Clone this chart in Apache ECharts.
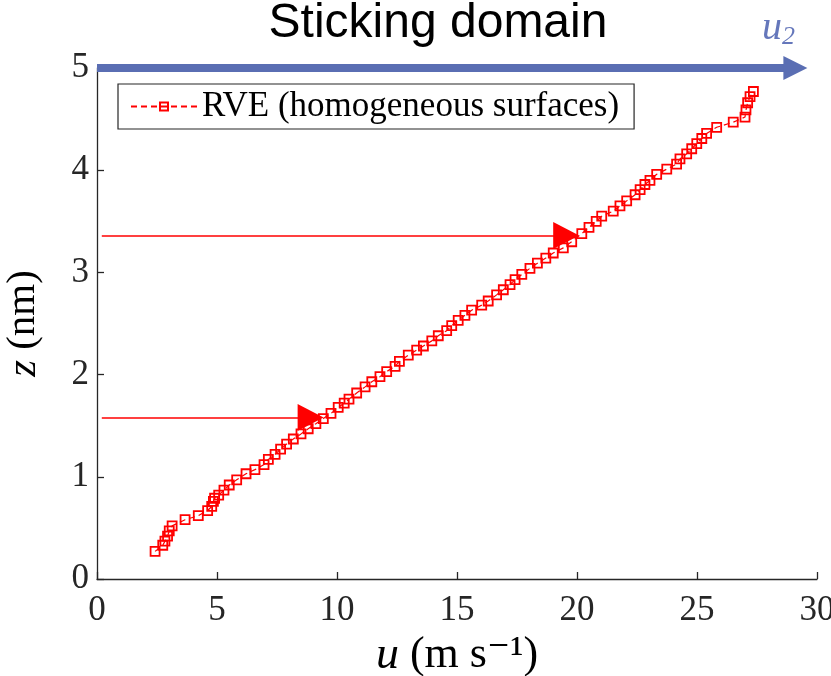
<!DOCTYPE html>
<html><head><meta charset="utf-8">
<script src="https://cdn.jsdelivr.net/npm/echarts@6/dist/echarts.min.js"></script>
<style>html,body{margin:0;padding:0;background:#fff}#c{width:831px;height:676px}</style>
</head><body><div id="c"></div>
<script>
// velocity u (m/s)
const uValues = [2.42,2.74,2.83,2.94,3.01,3.13,3.67,4.22,4.61,4.78,4.85,4.90,5.07,5.29,5.51,5.82,6.21,6.58,6.96,7.14,7.42,7.65,7.90,8.18,8.50,8.80,9.12,9.43,9.75,10.05,10.30,10.50,10.82,11.17,11.45,11.79,12.07,12.42,12.60,12.97,13.32,13.60,13.95,14.22,14.57,14.78,15.05,15.33,15.61,16.03,16.30,16.65,16.93,17.21,17.42,17.70,18.04,18.35,18.70,19.01,19.43,19.78,20.20,20.50,20.80,21.03,21.51,21.79,22.07,22.42,22.63,22.83,23.04,23.32,23.74,24.15,24.29,24.57,24.78,24.99,25.20,25.40,25.82,26.51,27.00,27.04,27.11,27.21,27.35];
// height z (nm)
const zValues = [0.27,0.33,0.37,0.42,0.47,0.52,0.58,0.62,0.67,0.71,0.76,0.79,0.82,0.87,0.92,0.97,1.03,1.07,1.12,1.17,1.22,1.27,1.32,1.37,1.42,1.47,1.52,1.57,1.62,1.68,1.72,1.76,1.82,1.88,1.93,1.98,2.03,2.08,2.13,2.19,2.24,2.28,2.33,2.38,2.43,2.48,2.53,2.58,2.63,2.68,2.72,2.78,2.83,2.88,2.93,2.98,3.04,3.09,3.14,3.19,3.24,3.30,3.38,3.44,3.50,3.55,3.60,3.65,3.70,3.76,3.81,3.86,3.90,3.96,4.01,4.06,4.11,4.16,4.21,4.26,4.31,4.36,4.42,4.47,4.52,4.59,4.66,4.72,4.77];
const seriesName = 'RVE (homogeneous surfaces)';
const xTickValues = [0,5,10,15,20,25,30];
const yTickValues = [0,1,2,3,4,5];
// annotation arrows (data coordinates)
const redArrowZ = [1.58, 3.36];
const redArrowStartU = [0.2, 0.2];
const redArrowEndU = [8.9, 19.55];
const blueArrowZ = 5;
const blueArrowStartU = 0;
const blueArrowEndU = 29.1;

const points = uValues.map((u, i) => [u, zValues[i]]);
const chart = echarts.init(document.getElementById('c'));
const axisCol = '#262626';
const serif = 'Liberation Serif, DejaVu Serif, serif';
chart.setOption({
  animation: false,
  backgroundColor: '#fff',
  grid: {left: 97, right: 14, top: 68, bottom: 97, containLabel: false, outerBoundsMode: 'none'},
  xAxis: {
    type: 'value', min: xTickValues[0], max: xTickValues[xTickValues.length-1], interval: 5,
    axisLine: {show: true, lineStyle: {color: axisCol, width: 1.3}},
    axisTick: {show: true, inside: true, length: 7, lineStyle: {color: axisCol, width: 1.3}},
    splitLine: {show: false},
    axisLabel: {color: axisCol, fontFamily: serif, fontSize: 35, margin: 14},
    name: '{i|u} (m s⁻¹)', nameLocation: 'middle', nameGap: 36,
    nameTextStyle: {color: '#000', fontFamily: serif, fontSize: 44, verticalAlign: 'top',
      rich: {i: {fontFamily: serif, fontStyle: 'italic', fontSize: 46, color: '#000'}}}
  },
  yAxis: {
    type: 'value', min: yTickValues[0], max: yTickValues[yTickValues.length-1], interval: 1,
    axisLine: {show: true, lineStyle: {color: axisCol, width: 1.3}},
    axisTick: {show: true, inside: true, length: 7, lineStyle: {color: axisCol, width: 1.3}},
    splitLine: {show: false},
    axisLabel: {color: axisCol, fontFamily: serif, fontSize: 35, margin: 8},
    name: '{i|z} (nm)', nameLocation: 'middle', nameGap: 52, nameRotate: 90,
    nameTextStyle: {color: '#000', fontFamily: serif, fontSize: 41,
      rich: {i: {fontFamily: serif, fontStyle: 'italic', fontSize: 43, color: '#000'}}}
  },
  legend: {
    show: true, left: 118, top: 84, orient: 'horizontal',
    backgroundColor: '#fff', borderColor: axisCol, borderWidth: 1.2, borderRadius: 0,
    padding: [5, 15, 5, 12], itemWidth: 66, itemHeight: 10, itemGap: 6,
    textStyle: {fontFamily: serif, fontSize: 35, color: '#000'},
    data: [seriesName]
  },
  graphic: [
    {type: 'text', x: 438, y: 0, z: 100,
      style: {text: 'Sticking domain', align: 'center', verticalAlign: 'top', fontFamily: 'Liberation Sans, Arial, sans-serif', fontSize: 48, fill: '#000'}},
    {type: 'text', left: 762, top: 8, z: 100,
      style: {text: '{a|u}{b|2}', rich: {
        a: {fontFamily: serif, fontStyle: 'italic', fontSize: 40, fill: '#6577bb', color: '#6577bb'},
        b: {fontFamily: serif, fontStyle: 'italic', fontSize: 26, fill: '#6577bb', color: '#6577bb', padding: [18, 0, 0, 0]}
      }}}
  ],
  series: [
    {
      name: seriesName, type: 'line', data: points,
      symbol: 'rect', symbolSize: 9, clip: false,
      lineStyle: {color: '#ff0000', width: 1.2, type: [6, 4]},
      itemStyle: {color: 'rgba(255,255,255,0)', borderColor: '#ff0000', borderWidth: 1.8},
      z: 3
    },
    {
      name: 'annotations', type: 'line', data: [], clip: false, silent: true,
      markLine: {
        silent: true, animation: false, label: {show: false},
        data: [
          [{coord: [redArrowStartU[0], redArrowZ[0]], symbol: 'none'}, {coord: [redArrowEndU[0], redArrowZ[0]], symbol: 'triangle', symbolSize: [27, 26]}],
          [{coord: [redArrowStartU[1], redArrowZ[1]], symbol: 'none'}, {coord: [redArrowEndU[1], redArrowZ[1]], symbol: 'triangle', symbolSize: [27, 26]}]
        ],
        lineStyle: {color: '#ff0000', width: 1.6, type: 'solid'},
        itemStyle: {color: '#ff0000'}
      },
      z: 4
    },
    {
      name: 'domain', type: 'line', data: [], clip: false, silent: true,
      markLine: {
        silent: true, animation: false, label: {show: false},
        data: [
          [{coord: [blueArrowStartU, blueArrowZ], symbol: 'none'}, {coord: [blueArrowEndU, blueArrowZ], symbol: 'triangle', symbolSize: [24, 24]}]
        ],
        lineStyle: {color: '#5a6eb3', width: 8, type: 'solid', cap: 'butt'},
        itemStyle: {color: '#5a6eb3'}
      },
      z: 5
    }
  ]
});
</script></body></html>
